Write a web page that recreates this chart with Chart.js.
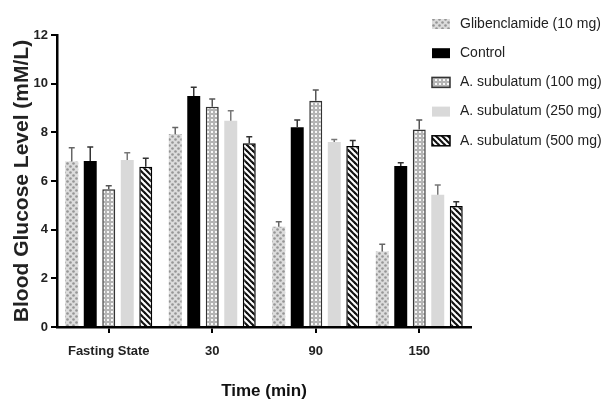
<!DOCTYPE html>
<html>
<head>
<meta charset="utf-8">
<script src="https://cdn.jsdelivr.net/npm/chart.js@4.4.0/dist/chart.umd.min.js"></script>
<style>
  body { margin: 0; background: #fff; }
  #wrap { width: 608px; height: 400px; }
</style>
</head>
<body>
<div id="wrap"><canvas id="glucose" width="608" height="400"></canvas></div>
<script>
// data
var categories = ['Fasting State', '30', '90', '150'];
var seriesNames = ['Glibenclamide (10 mg)', 'Control', 'A. subulatum (100 mg)', 'A. subulatum (250 mg)', 'A. subulatum (500 mg)'];

var glibValues = [6.8, 7.93, 4.12, 3.1];
var glibErr = [0.57, 0.27, 0.21, 0.3];
var controlValues = [6.82, 9.49, 8.21, 6.62];
var controlErr = [0.58, 0.36, 0.3, 0.13];
var as100Values = [5.66, 9.05, 9.3, 8.12];
var as100Err = [0.14, 0.32, 0.44, 0.39];
var as250Values = [6.86, 8.48, 7.6, 5.43];
var as250Err = [0.3, 0.41, 0.11, 0.41];
var as500Values = [6.59, 7.55, 7.44, 4.97];
var as500Err = [0.34, 0.27, 0.22, 0.18];

var sans = '"Liberation Sans", Arial, sans-serif';

// fill patterns
function makePattern(size, draw) {
  var c = document.createElement('canvas');
  c.width = size; c.height = size;
  var g = c.getContext('2d');
  draw(g, size);
  return g.createPattern(c, 'repeat');
}

var glibFill = makePattern(6, function (g, s) {
  g.fillStyle = '#dcdcdc';
  g.fillRect(0, 0, s, s);
  g.fillStyle = '#959595';
  g.beginPath(); g.arc(1.5, 1.5, 1.3, 0, Math.PI * 2); g.fill();
  g.beginPath(); g.arc(4.5, 4.5, 1.3, 0, Math.PI * 2); g.fill();
});

var dotFill = makePattern(4, function (g, s) {
  g.fillStyle = '#f8f8f8';
  g.fillRect(0, 0, s, s);
  g.strokeStyle = '#6e6e6e';
  g.lineWidth = 0.8;
  g.beginPath(); g.arc(2, 2, 1.3, 0, Math.PI * 2); g.stroke();
});

var stripeFill = makePattern(6, function (g, s) {
  g.fillStyle = '#fff';
  g.fillRect(0, 0, s, s);
  g.strokeStyle = '#111';
  g.lineWidth = 2.2;
  [-s, 0, s].forEach(function (off) {
    g.beginPath(); g.moveTo(off - 1, -1); g.lineTo(off + s + 1, s + 1); g.stroke();
  });
});

// upward error bars with caps
var errorBars = {
  id: 'errorBars',
  afterDatasetsDraw: function (chart) {
    var ctx = chart.ctx;
    var y = chart.scales.y;
    chart.data.datasets.forEach(function (ds, i) {
      var meta = chart.getDatasetMeta(i);
      meta.data.forEach(function (bar, j) {
        var top = y.getPixelForValue(ds.data[j] + ds.errors[j]);
        ctx.save();
        ctx.strokeStyle = ds.errColor;
        ctx.lineWidth = 1.5;
        ctx.beginPath();
        ctx.moveTo(bar.x, bar.y);
        ctx.lineTo(bar.x, top);
        ctx.moveTo(bar.x - 3, top);
        ctx.lineTo(bar.x + 3, top);
        ctx.stroke();
        ctx.restore();
      });
    });
  }
};

// legend drawn over the top right corner
var sideLegend = {
  id: 'sideLegend',
  afterDraw: function (chart) {
    var ctx = chart.ctx;
    chart.data.datasets.forEach(function (ds, i) {
      var cy = 24 + i * 29.2;
      ctx.save();
      ctx.fillStyle = ds.backgroundColor;
      ctx.fillRect(432, cy - 5, 18, 10);
      if (ds.borderWidth) {
        ctx.strokeStyle = ds.borderColor;
        ctx.lineWidth = 1.5;
        ctx.strokeRect(432, cy - 5, 18, 10);
      }
      ctx.fillStyle = '#222';
      ctx.font = '14px ' + sans;
      ctx.textBaseline = 'middle';
      ctx.fillText(ds.label, 460, cy);
      ctx.restore();
    });
  }
};

var ctx = document.getElementById('glucose').getContext('2d');
var chart = new Chart(ctx, {
  type: 'bar',
  data: {
    labels: categories,
    datasets: [
      { label: seriesNames[0], data: glibValues, errors: glibErr, backgroundColor: glibFill, borderWidth: 0, errColor: '#666' },
      { label: seriesNames[1], data: controlValues, errors: controlErr, backgroundColor: '#000', borderWidth: 0, errColor: '#333' },
      { label: seriesNames[2], data: as100Values, errors: as100Err, backgroundColor: dotFill, borderColor: '#333', borderWidth: 1.5, errColor: '#555' },
      { label: seriesNames[3], data: as250Values, errors: as250Err, backgroundColor: '#d9d9d9', borderWidth: 0, errColor: '#777' },
      { label: seriesNames[4], data: as500Values, errors: as500Err, backgroundColor: stripeFill, borderColor: '#000', borderWidth: 1.5, errColor: '#333' }
    ]
  },
  plugins: [errorBars, sideLegend],
  options: {
    responsive: false,
    animation: false,
    devicePixelRatio: 1,
    layout: { padding: { top: 35, right: 137, left: 0, bottom: 0 } },
    datasets: {
      bar: { categoryPercentage: 0.894, barPercentage: 0.7 }
    },
    plugins: {
      legend: { display: false },
      tooltip: { enabled: false }
    },
    scales: {
      x: {
        afterFit: function (scale) { scale.height = 73; },
        grid: { display: true, drawOnChartArea: false, offset: false, tickLength: 6, color: '#000', lineWidth: 2 },
        border: { display: true, color: '#000', width: 2.5 },
        ticks: { color: '#222', padding: 11, autoSkip: false, maxRotation: 0, minRotation: 0, font: { family: sans, size: 13, weight: 'bold' } },
        title: {
          display: true,
          text: 'Time (min)',
          color: '#111',
          padding: { top: 0, bottom: 0 },
          font: { family: sans, size: 17, weight: 'bold', lineHeight: 1 }
        }
      },
      y: {
        min: 0,
        max: 12,
        afterFit: function (scale) { scale.width = 57; },
        grid: { display: true, drawOnChartArea: false, tickLength: 6, color: '#000', lineWidth: 2 },
        border: { display: true, color: '#000', width: 2.5 },
        ticks: { stepSize: 2, color: '#222', padding: 3, font: { family: sans, size: 13, weight: 'bold' } },
        title: {
          display: true,
          text: 'Blood Glucose Level (mM/L)',
          color: '#222',
          padding: { top: 12, bottom: 0 },
          font: { family: sans, size: 21, weight: 'bold', lineHeight: 1 }
        }
      }
    }
  }
});
</script>
</body>
</html>
